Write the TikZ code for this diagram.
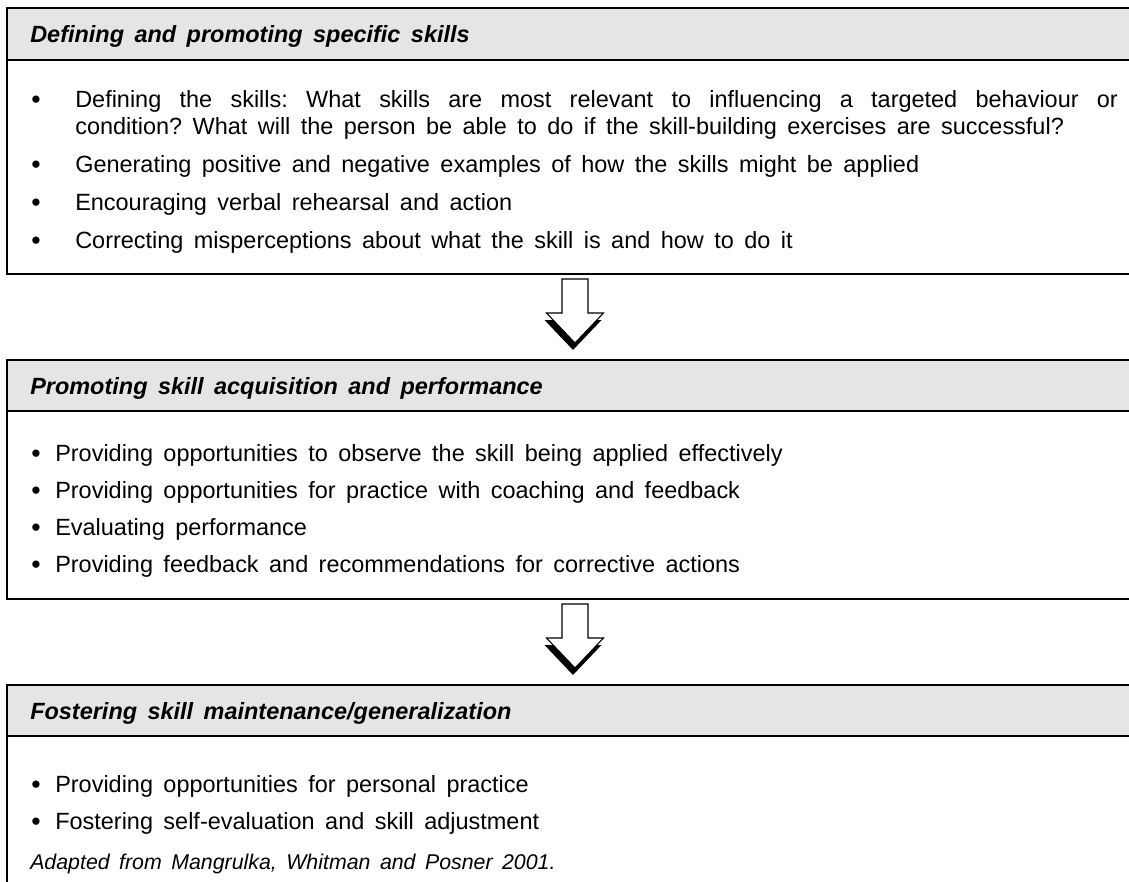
\documentclass[tikz,border=0pt]{standalone}
\usepackage{fontspec}
\setmainfont{Liberation Sans}[WordSpace=1.6]
\definecolor{hdr}{RGB}{229,229,229}
\frenchspacing
\begin{document}
\begin{tikzpicture}[x=0.75pt,y=-0.75pt,
  body/.style={anchor=base west,inner sep=0pt,font=\fontsize{17.6}{20}\selectfont},
  dot/.style={anchor=base west,inner sep=0pt,font=\fontsize{20}{20}\selectfont},
  head/.style={anchor=base west,inner sep=0pt,font=\fontsize{17.6}{20}\selectfont\bfseries\itshape},
  note/.style={anchor=base west,inner sep=0pt,font=\fontsize{16}{19}\selectfont\itshape},
  frame/.style={line width=1.9pt},
  sep/.style={line width=1.2pt},
  arrowbody/.style={fill=white,draw=black,line width=0.8pt},
  shadowfill/.style={fill=black,draw=none}]
\useasboundingbox (0,0) rectangle (1129,882);

% ---------- box 1 ----------
\fill[hdr] (7,8) rectangle (1129,60);
\draw[sep] (7,60) -- (1129,60);
\draw[frame] (1129,8) -- (7,8) -- (7,274) -- (1129,274);
\node[head] (h1) at (30,42) {Defining and promoting specific skills};
\node[dot] (d1) at (31,108) {•};
\node[body] (t1a) at (75,107) {\makebox[782pt][s]{Defining the skills: What skills are most relevant to influencing a targeted behaviour or}};
\node[body] (t1b) at (75,134) {condition? What will the person be able to do if the skill-building exercises are successful?};
\node[dot] (d2) at (31,173) {•};
\node[body] (t2) at (75,172) {Generating positive and negative examples of how the skills might be applied};
\node[dot] (d3) at (31,211) {•};
\node[body] (t3) at (75,210) {Encouraging verbal rehearsal and action};
\node[dot] (d4) at (31,249) {•};
\node[body] (t4) at (75,248) {Correcting misperceptions about what the skill is and how to do it};

% ---------- arrow 1 ----------
\coordinate (a1) at (575,279);
\fill[shadowfill] ([shift={(-30.5,41)}]a1) -- ([shift={(-2,71)}]a1) -- ([shift={(26.5,41)}]a1) -- cycle;
\draw[arrowbody] ([shift={(-13,0)}]a1) -- ([shift={(13,0)}]a1) -- ([shift={(13,34)}]a1) -- ([shift={(28.5,34)}]a1)
  -- ([shift={(0,64)}]a1) -- ([shift={(-28.5,34)}]a1) -- ([shift={(-13,34)}]a1) -- cycle;

% ---------- box 2 ----------
\fill[hdr] (7,360) rectangle (1129,411);
\draw[sep] (7,411) -- (1129,411);
\draw[frame] (1129,360) -- (7,360) -- (7,599) -- (1129,599);
\node[head] (h2) at (30,394) {Promoting skill acquisition and performance};
\node[dot] (e1) at (31,462) {•};
\node[body] (u1) at (55,461) {Providing opportunities to observe the skill being applied effectively};
\node[dot] (e2) at (31,499) {•};
\node[body] (u2) at (55,498) {Providing opportunities for practice with coaching and feedback};
\node[dot] (e3) at (31,536) {•};
\node[body] (u3) at (55,535) {Evaluating performance};
\node[dot] (e4) at (31,573) {•};
\node[body] (u4) at (55,572) {Providing feedback and recommendations for corrective actions};

% ---------- arrow 2 ----------
\coordinate (a2) at (575,604);
\fill[shadowfill] ([shift={(-30.5,41)}]a2) -- ([shift={(-2,71)}]a2) -- ([shift={(26.5,41)}]a2) -- cycle;
\draw[arrowbody] ([shift={(-13,0)}]a2) -- ([shift={(13,0)}]a2) -- ([shift={(13,34)}]a2) -- ([shift={(28.5,34)}]a2)
  -- ([shift={(0,64)}]a2) -- ([shift={(-28.5,34)}]a2) -- ([shift={(-13,34)}]a2) -- cycle;

% ---------- box 3 ----------
\fill[hdr] (7,685) rectangle (1129,736);
\draw[sep] (7,736) -- (1129,736);
\draw[frame] (1129,685) -- (7,685) -- (7,882);
\node[head] (h3) at (30,719) {Fostering skill maintenance/generalization};
\node[dot] (f1) at (31,793) {•};
\node[body] (v1) at (55,792) {Providing opportunities for personal practice};
\node[dot] (f2) at (31,830) {•};
\node[body] (v2) at (55,829) {Fostering self-evaluation and skill adjustment};
\node[note] (src) at (30,869) {Adapted from Mangrulka, Whitman and Posner 2001.};
\end{tikzpicture}
\end{document}
